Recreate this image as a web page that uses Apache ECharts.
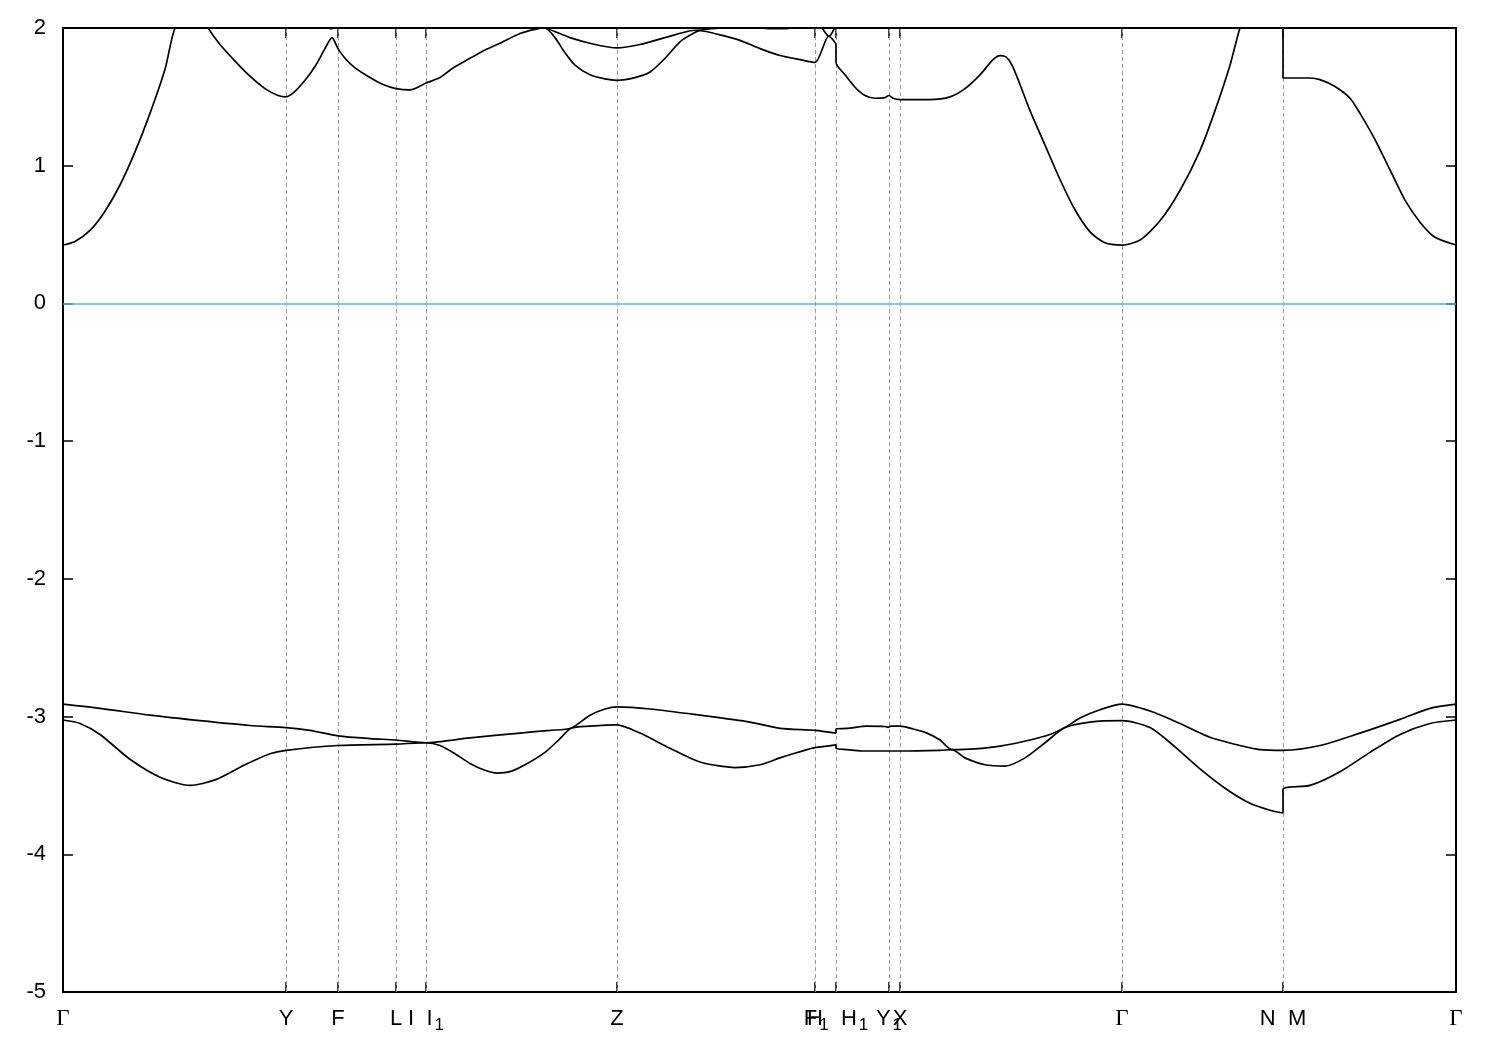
<!DOCTYPE html>
<html>
<head>
<meta charset="utf-8">
<script src="https://cdn.jsdelivr.net/npm/echarts@6/dist/echarts.min.js"></script>
<style>
html,body{margin:0;padding:0;background:#fff;}
#chart{width:1500px;height:1050px;}
</style>
</head>
<body>
<div id="chart"></div>
<script>
// High-symmetry points along the k-path (arbitrary k-distance units)
const kTicks = [0, 2.23, 2.75, 3.33, 3.63, 5.54, 7.52, 7.73, 8.26, 8.37, 10.59, 12.20, 13.93];
const kLabels = ['Γ', 'Y', 'F', 'L', 'I|I_1', 'Z', 'H', 'F_1|H_1', 'Y_1', 'X', 'Γ', 'N|M', 'Γ'];
const energyTicks = [-5, -4, -3, -2, -1, 0, 1, 2];
const fermiLevel = 0;

// Conduction band 1 [k, E]
const cb1 = [
[0,0.424],[0.12,0.45],[0.27,0.53],[0.42,0.67],[0.57,0.86],[0.72,1.10],[0.87,1.38],[1.02,1.70],[1.12,2.0],[1.27,2.15],[1.37,2.1],[1.45,2.0],[1.57,1.88],[1.72,1.76],[1.87,1.65],[2.02,1.56],[2.15,1.51],[2.23,1.50],
[2.32,1.54],[2.42,1.62],[2.52,1.72],[2.62,1.85],[2.69,1.93],[2.75,1.85],
[2.82,1.78],[2.92,1.71],[3.07,1.64],[3.20,1.59],[3.33,1.56],
[3.47,1.55],[3.63,1.60],
[3.77,1.64],[3.90,1.71],[4.07,1.78],[4.22,1.84],[4.37,1.89],[4.57,1.96],[4.72,1.99],[4.82,2.0],[4.92,1.93],[5.02,1.82],[5.12,1.73],[5.27,1.66],[5.42,1.63],[5.54,1.62],
[5.72,1.64],[5.87,1.68],[6.02,1.78],[6.17,1.90],[6.30,1.96],[6.37,1.98],[6.57,1.95],[6.77,1.91],[6.97,1.85],[7.17,1.80],[7.37,1.77],[7.52,1.75],
[7.657,1.94],[7.73,1.876],
[7.73,1.75],[7.82,1.66],[7.92,1.57],[8.02,1.51],[8.12,1.49],[8.22,1.495],[8.26,1.51],[8.30,1.49],[8.37,1.48],
[8.52,1.48],[8.67,1.48],[8.87,1.50],[9.02,1.56],[9.17,1.66],[9.30,1.77],[9.37,1.80],[9.43,1.79],[9.49,1.73],[9.57,1.59],[9.67,1.40],[9.82,1.15],[9.97,0.90],[10.12,0.68],[10.27,0.52],[10.42,0.44],[10.59,0.424],
[10.77,0.46],[10.97,0.60],[11.17,0.82],[11.37,1.11],[11.52,1.40],[11.67,1.73],[11.77,2.0],[12.20,2.9],
[12.20,1.637],[12.47,1.637],[12.57,1.625],[12.72,1.575],[12.87,1.49],[12.97,1.38],[13.12,1.19],[13.27,0.97],[13.42,0.75],[13.57,0.59],[13.72,0.48],[13.93,0.424]
];
// Conduction band 2 [k, E]
const cb2 = [
[0,2.6],[0.87,2.45],[1.37,2.3],[1.87,2.15],[2.23,2.1],[2.57,2.03],[2.68,1.995],[2.75,2.02],[3.07,2.15],[3.33,2.2],[3.63,2.15],[4.07,2.08],[4.57,2.02],[4.82,2.0],[5.07,1.93],[5.32,1.88],[5.54,1.855],[5.77,1.88],[6.02,1.93],[6.27,1.98],[6.37,1.985],[6.57,2.0],[6.87,2.005],[7.07,1.995],[7.22,1.995],[7.37,2.02],[7.52,2.062],[7.59,2.0],[7.657,1.94],[7.73,2.04],
[7.73,2.3],[8.37,2.4],[9.37,2.3],[10.59,2.6],[11.77,2.6],[12.20,3.1],
[12.20,2.2],[13.93,2.6]
];
// Valence band 1 (top) [k, E]
const vb1 = [
[0,-2.909],[0.37,-2.94],[0.87,-2.99],[1.37,-3.03],[1.87,-3.065],[2.23,-3.08],[2.47,-3.10],[2.75,-3.14],[3.07,-3.16],[3.33,-3.17],[3.63,-3.19],
[4.07,-3.155],[4.57,-3.12],[4.87,-3.10],[5.08,-3.085],[5.27,-2.99],[5.42,-2.945],[5.54,-2.93],
[5.87,-2.945],[6.37,-2.99],[6.87,-3.04],[7.17,-3.086],[7.52,-3.10],[7.73,-3.12],
[7.73,-3.09],[7.84,-3.086],[8.04,-3.07],[8.22,-3.072],[8.25,-3.078],[8.28,-3.07],[8.37,-3.07],
[8.50,-3.09],[8.64,-3.12],[8.77,-3.17],[8.89,-3.24],[9.12,-3.235],[9.37,-3.215],[9.67,-3.17],[9.87,-3.13],[10.02,-3.08],[10.17,-3.01],[10.37,-2.95],[10.59,-2.91],
[10.87,-2.96],[11.17,-3.05],[11.47,-3.15],[11.77,-3.21],[11.97,-3.24],[12.20,-3.245],
[12.57,-3.21],[12.97,-3.12],[13.37,-3.02],[13.67,-2.94],[13.93,-2.909]
];
// Valence band 2 [k, E]
const vb2 = [
[0,-3.025],[0.17,-3.05],[0.37,-3.13],[0.67,-3.31],[0.97,-3.44],[1.27,-3.50],[1.52,-3.46],[1.82,-3.35],[2.07,-3.27],[2.23,-3.245],[2.75,-3.21],[3.33,-3.20],[3.63,-3.19],
[3.77,-3.21],[3.92,-3.27],[4.07,-3.34],[4.22,-3.39],[4.34,-3.41],[4.47,-3.40],[4.62,-3.35],[4.82,-3.26],[4.97,-3.16],[5.08,-3.085],[5.27,-3.07],[5.54,-3.06],
[5.77,-3.12],[6.07,-3.23],[6.37,-3.33],[6.72,-3.37],[6.97,-3.35],[7.17,-3.30],[7.30,-3.27],[7.44,-3.24],[7.52,-3.225],[7.73,-3.205],
[7.73,-3.23],[7.84,-3.24],[7.99,-3.25],[8.37,-3.25],
[8.77,-3.245],[8.89,-3.24],[9.02,-3.30],[9.22,-3.35],[9.42,-3.36],[9.62,-3.30],[9.82,-3.19],[10.02,-3.08],[10.27,-3.04],[10.59,-3.03],
[10.87,-3.08],[11.12,-3.22],[11.37,-3.38],[11.62,-3.52],[11.87,-3.63],[12.07,-3.68],[12.20,-3.70],
[12.20,-3.53],[12.47,-3.50],[12.77,-3.40],[13.07,-3.26],[13.37,-3.13],[13.67,-3.05],[13.93,-3.025]
];

const bands = [cb1, cb2, vb1, vb2];

function richLabel(lbl) {
  if (lbl === 'Γ') return '{g|Γ}';
  return lbl.split('|').map(function (p) {
    const m = p.split('_');
    let s = '{n|' + m[0] + '}';
    if (m[1]) s += '{s|' + m[1] + '}';
    return s;
  }).join('{n|  }');
}

const kMin = kTicks[0], kMax = kTicks[kTicks.length - 1];
const interior = kTicks.slice(1, -1);

const chart = echarts.init(document.getElementById('chart'), null, {renderer: 'canvas'});

const tickStyle = {show: true, inside: true, length: 10, lineStyle: {color: '#000', width: 1.5}};
const lineAx = {show: true, onZero: false, lineStyle: {color: '#000', width: 2}};

const series = bands.map(function (b) {
  return {
    type: 'line', data: b, showSymbol: false, symbol: 'none', smooth: 0.25,
    lineStyle: {color: '#000', width: 1.7}, clip: true, z: 5, silent: true, animation: false
  };
});
series.push({
  type: 'line', data: [], silent: true, animation: false, z: 2,
  markLine: {
    silent: true, symbol: ['none', 'none'], animation: false,
    label: {show: false},
    lineStyle: {color: '#9a9a9a', type: [4, 3], width: 1},
    data: interior.map(function (k) { return {xAxis: k}; })
  }
});
series.push({
  type: 'line', data: [], silent: true, animation: false, z: 3,
  markLine: {
    silent: true, symbol: ['none', 'none'], animation: false,
    label: {show: false},
    lineStyle: {color: '#56b4e9', type: 'solid', width: 1.6},
    data: [{yAxis: fermiLevel}]
  }
});

const option = {
  backgroundColor: '#fff',
  animation: false,
  grid: {left: 63, right: 44, top: 28, bottom: 58, containLabel: false, outerBoundsMode: 'none'},
  xAxis: [{
    type: 'value', min: kMin, max: kMax, position: 'bottom',
    axisLine: lineAx,
    axisTick: Object.assign({customValues: kTicks}, tickStyle),
    splitLine: {show: false},
    axisLabel: {
      show: true, customValues: kTicks, margin: 12, color: '#000', lineHeight: 30,
      fontFamily: 'Liberation Sans', fontSize: 22,
      formatter: function (v) {
        let idx = 0, best = Infinity;
        kTicks.forEach(function (t, i) { const d = Math.abs(t - v); if (d < best) { best = d; idx = i; } });
        return richLabel(kLabels[idx]);
      },
      rich: {
        n: {fontFamily: 'Liberation Sans', fontSize: 22, lineHeight: 30, color: '#000', verticalAlign: 'middle'},
        s: {fontFamily: 'Liberation Sans', fontSize: 17, lineHeight: 14, color: '#000', verticalAlign: 'bottom', padding: [0, 0, 0, 2]},
        g: {fontFamily: 'Liberation Serif', fontSize: 23, lineHeight: 30, color: '#000', verticalAlign: 'middle'}
      }
    }
  }, {
    type: 'value', min: kMin, max: kMax, position: 'top',
    axisLine: lineAx,
    axisTick: Object.assign({customValues: kTicks}, tickStyle),
    axisLabel: {show: false}, splitLine: {show: false}
  }],
  yAxis: [{
    type: 'value', min: -5, max: 2, interval: 1, position: 'left',
    axisLine: lineAx,
    axisTick: tickStyle,
    splitLine: {show: false},
    axisLabel: {show: true, margin: 17, color: '#000', fontFamily: 'Liberation Sans', fontSize: 22,
      customValues: energyTicks,
      formatter: function (v) { return String(Math.round(v)); }}
  }, {
    type: 'value', min: -5, max: 2, interval: 1, position: 'right',
    axisLine: lineAx,
    axisTick: tickStyle,
    axisLabel: {show: false}, splitLine: {show: false}
  }],
  series: series
};
chart.setOption(option);
</script>
</body>
</html>
